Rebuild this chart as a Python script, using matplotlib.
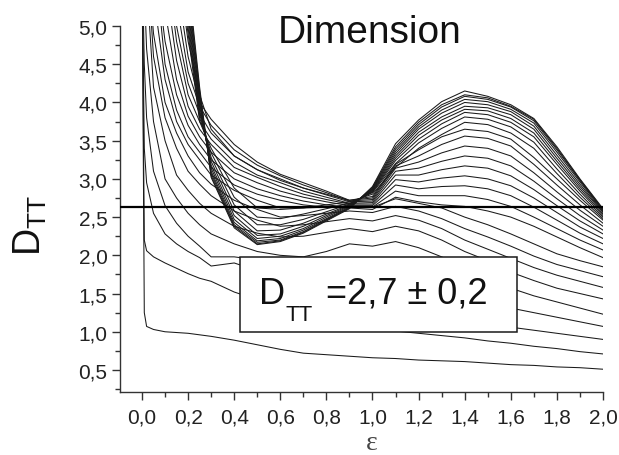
import numpy as np
import matplotlib
matplotlib.use('Agg')
import matplotlib.pyplot as plt
from matplotlib.ticker import MultipleLocator, FuncFormatter
from matplotlib.patches import Rectangle

plt.rcParams['font.family'] = ['Liberation Sans', 'DejaVu Sans']
plt.rcParams['mathtext.fontset'] = 'custom'
plt.rcParams['mathtext.rm'] = 'Liberation Sans'

# epsilon grid shared by all curves
eps = [0.0, 0.01, 0.02, 0.05, 0.1, 0.15, 0.2, 0.25, 0.3, 0.4, 0.5, 0.6, 0.7,
       0.8, 0.9, 1.0, 1.1, 1.2, 1.3, 1.4, 1.5, 1.6, 1.7, 1.8, 1.9, 2.0]

# D_TT for each embedding (lowest curve first)
c01 = [6.0, 1.25, 1.07, 1.03, 1.00, 0.99, 0.98, 0.96, 0.94, 0.89, 0.83, 0.77, 0.72,
       0.70, 0.68, 0.66, 0.65, 0.63, 0.62, 0.61, 0.59, 0.57, 0.56, 0.54, 0.53, 0.51]
c02 = [6.0, 2.20, 2.06, 1.98, 1.90, 1.83, 1.76, 1.70, 1.66, 1.52, 1.42, 1.33, 1.24,
       1.16, 1.10, 1.05, 1.01, 0.98, 0.95, 0.92, 0.88, 0.85, 0.81, 0.78, 0.74, 0.71]
c03 = [6.0, 3.40, 2.95, 2.55, 2.28, 2.15, 2.05, 1.97, 1.86, 1.90, 1.80, 1.70, 1.60,
       1.52, 1.45, 1.38, 1.32, 1.26, 1.20, 1.15, 1.10, 1.06, 1.02, 0.98, 0.94, 0.90]
c04 = [6.0, 4.50, 3.80, 3.10, 2.65, 2.42, 2.25, 2.12, 1.98, 1.98, 1.94, 1.88, 1.82,
       1.76, 1.70, 1.65, 1.60, 1.55, 1.50, 1.44, 1.38, 1.31, 1.25, 1.19, 1.13, 1.07]
c05 = [6.0, 5.50, 4.70, 3.75, 3.00, 2.75, 2.55, 2.40, 2.28, 2.15, 2.05, 2.00, 1.98,
       2.05, 2.15, 2.12, 2.18, 2.10, 1.98, 1.85, 1.72, 1.57, 1.47, 1.39, 1.31, 1.23]
c06 = [6.0, 6.0, 5.60, 4.20, 3.50, 3.05, 2.85, 2.68, 2.55, 2.38, 2.29, 2.24, 2.25,
       2.30, 2.35, 2.31, 2.38, 2.32, 2.20, 2.05, 1.93, 1.78, 1.67, 1.57, 1.50, 1.43]
c07 = [6.0, 6.0, 6.0, 4.60, 3.80, 3.40, 3.10, 2.93, 2.78, 2.58, 2.46, 2.38, 2.40,
       2.44, 2.48, 2.45, 2.52, 2.46, 2.35, 2.20, 2.08, 1.96, 1.84, 1.74, 1.66, 1.58]
c08 = [6.0, 6.0, 6.0, 4.90, 4.00, 3.60, 3.30, 3.08, 2.93, 2.72, 2.60, 2.50, 2.52,
       2.55, 2.58, 2.56, 2.64, 2.58, 2.48, 2.35, 2.24, 2.12, 1.99, 1.88, 1.80, 1.72]
c09 = [6.0, 6.0, 6.0, 5.40, 4.30, 3.75, 3.45, 3.25, 3.05, 2.85, 2.72, 2.62, 2.62,
       2.63, 2.64, 2.63, 2.74, 2.68, 2.62, 2.50, 2.40, 2.28, 2.15, 2.02, 1.93, 1.85]
c10 = [6.0, 6.0, 6.0, 6.0, 4.50, 3.90, 3.55, 3.35, 3.15, 2.92, 2.80, 2.72, 2.66,
       2.63, 2.62, 2.60, 2.76, 2.70, 2.66, 2.64, 2.58, 2.50, 2.38, 2.24, 2.10, 1.97]
c11 = [6.0, 6.0, 6.0, 6.0, 4.80, 4.10, 3.70, 3.45, 3.25, 3.00, 2.87, 2.78, 2.71,
       2.66, 2.63, 2.63, 2.84, 2.78, 2.78, 2.78, 2.73, 2.64, 2.50, 2.35, 2.20, 2.07]
c12 = [6.0, 6.0, 6.0, 6.0, 5.20, 4.30, 3.82, 3.55, 3.35, 3.08, 2.95, 2.84, 2.76,
       2.70, 2.65, 2.65, 2.92, 2.87, 2.90, 2.91, 2.87, 2.78, 2.63, 2.46, 2.29, 2.15]
c13 = [6.0, 6.0, 6.0, 6.0, 5.60, 4.55, 3.95, 3.65, 3.45, 3.15, 3.02, 2.90, 2.80,
       2.73, 2.67, 2.67, 2.99, 2.96, 3.01, 3.04, 3.00, 2.91, 2.75, 2.56, 2.37, 2.22]
c14 = [6.0, 6.0, 6.0, 6.0, 6.0, 4.80, 4.10, 3.75, 3.52, 3.22, 3.05, 2.95, 2.84,
       2.76, 2.68, 2.69, 3.05, 3.05, 3.12, 3.17, 3.14, 3.04, 2.86, 2.65, 2.45, 2.28]
c15 = [6.0, 6.0, 6.0, 6.0, 6.0, 5.00, 4.25, 3.85, 3.60, 3.30, 3.12, 3.00, 2.88,
       2.79, 2.70, 2.71, 3.10, 3.14, 3.23, 3.30, 3.27, 3.17, 2.97, 2.74, 2.52, 2.33]
c16 = [6.0, 6.0, 6.0, 6.0, 6.0, 5.30, 4.40, 3.95, 3.70, 3.38, 3.18, 3.04, 2.92,
       2.82, 2.71, 2.73, 3.14, 3.22, 3.34, 3.43, 3.40, 3.30, 3.08, 2.83, 2.59, 2.38]
c17 = [6.0, 6.0, 6.0, 6.0, 6.0, 5.60, 4.60, 4.00, 3.78, 3.45, 3.22, 3.06, 2.95,
       2.84, 2.72, 2.75, 3.17, 3.30, 3.45, 3.56, 3.53, 3.43, 3.19, 2.92, 2.66, 2.42]
c18 = [6.0, 6.0, 6.0, 6.0, 6.0, 5.90, 4.80, 4.10, 3.65, 3.30, 3.12, 2.98, 2.88,
       2.80, 2.72, 2.77, 3.19, 3.38, 3.55, 3.65, 3.62, 3.52, 3.28, 3.00, 2.72, 2.46]
c19 = [6.0, 6.0, 6.0, 6.0, 6.0, 6.0, 4.90, 3.75, 3.40, 2.88, 2.62, 2.60, 2.62,
       2.66, 2.70, 2.80, 3.15, 3.40, 3.58, 3.74, 3.71, 3.60, 3.40, 3.07, 2.76, 2.48]
c20 = [6.0, 6.0, 6.0, 6.0, 6.0, 6.0, 4.98, 3.80, 3.34, 2.76, 2.50, 2.48, 2.54,
       2.61, 2.68, 2.82, 3.20, 3.47, 3.66, 3.81, 3.78, 3.68, 3.48, 3.13, 2.80, 2.50]
c21 = [6.0, 6.0, 6.0, 6.0, 6.0, 6.0, 5.06, 3.85, 3.28, 2.66, 2.40, 2.40, 2.47,
       2.57, 2.67, 2.83, 3.24, 3.52, 3.72, 3.87, 3.84, 3.74, 3.55, 3.19, 2.84, 2.52]
c22 = [6.0, 6.0, 6.0, 6.0, 6.0, 6.0, 5.14, 3.90, 3.23, 2.58, 2.32, 2.33, 2.42,
       2.54, 2.66, 2.84, 3.27, 3.57, 3.77, 3.91, 3.89, 3.79, 3.60, 3.23, 2.87, 2.54]
c23 = [6.0, 6.0, 6.0, 6.0, 6.0, 6.0, 5.22, 3.95, 3.18, 2.52, 2.26, 2.28, 2.38,
       2.52, 2.65, 2.85, 3.30, 3.61, 3.81, 3.95, 3.93, 3.84, 3.65, 3.27, 2.90, 2.56]
c24 = [6.0, 6.0, 6.0, 6.0, 6.0, 6.0, 5.30, 4.00, 3.14, 2.47, 2.22, 2.25, 2.35,
       2.50, 2.64, 2.86, 3.33, 3.65, 3.86, 4.00, 3.97, 3.88, 3.69, 3.31, 2.93, 2.57]
c25 = [6.0, 6.0, 6.0, 6.0, 6.0, 6.0, 5.38, 4.05, 3.10, 2.43, 2.19, 2.22, 2.33,
       2.48, 2.63, 2.87, 3.36, 3.68, 3.90, 4.04, 4.01, 3.91, 3.73, 3.35, 2.96, 2.58]
c26 = [6.0, 6.0, 6.0, 6.0, 6.0, 6.0, 5.46, 4.10, 3.07, 2.40, 2.17, 2.20, 2.31,
       2.47, 2.62, 2.88, 3.39, 3.71, 3.94, 4.08, 4.04, 3.94, 3.76, 3.38, 2.98, 2.59]
c27 = [6.0, 6.0, 6.0, 6.0, 6.0, 6.0, 5.54, 4.15, 3.04, 2.38, 2.15, 2.19, 2.30,
       2.46, 2.62, 2.89, 3.42, 3.74, 3.97, 4.10, 4.06, 3.95, 3.78, 3.40, 2.99, 2.60]
c28 = [6.0, 6.0, 6.0, 6.0, 6.0, 6.0, 5.62, 4.20, 3.02, 2.36, 2.14, 2.18, 2.29,
       2.45, 2.61, 2.90, 3.46, 3.77, 4.01, 4.15, 4.08, 3.97, 3.79, 3.42, 3.00, 2.61]

curves = [c01, c02, c03, c04, c05, c06, c07, c08, c09, c10, c11, c12, c13, c14,
          c15, c16, c17, c18, c19, c20, c21, c22, c23, c24, c25, c26, c27, c28]

d_level = 2.63          # horizontal estimate line
box_x = (0.425, 1.627)  # result box extent in data units
box_y = (0.997, 1.978)

W, H = 619, 456
fig = plt.figure(figsize=(W/100., H/100.), dpi=100)
ax = fig.add_axes([120./W, 1-393./H, 483./W, 366./H])

for c in curves:
    ax.plot(eps, c, color='#1a1a1a', lw=0.75, solid_joinstyle='miter')

ax.axhline(d_level, color='k', lw=1.6, zorder=5)

ax.add_patch(Rectangle((box_x[0], box_y[0]), box_x[1]-box_x[0], box_y[1]-box_y[0],
                       facecolor='white', edgecolor='#1a1a1a', lw=1.1, zorder=6))

ax.set_xlim(-0.0954, 2.0)
ax.set_ylim(0.212, 5.0)
for s in ['top', 'right']:
    ax.spines[s].set_visible(False)
for s in ['left', 'bottom']:
    ax.spines[s].set_color('#333333')
    ax.spines[s].set_linewidth(1.0)

ax.xaxis.set_major_locator(MultipleLocator(0.2))
ax.xaxis.set_minor_locator(MultipleLocator(0.1))
ax.yaxis.set_major_locator(MultipleLocator(0.5))
ax.yaxis.set_minor_locator(MultipleLocator(0.25))
comma = FuncFormatter(lambda v, p: ('%.1f' % v).replace('.', ','))
ax.xaxis.set_major_formatter(comma)
ax.yaxis.set_major_formatter(comma)
ax.tick_params(which='major', direction='out', length=6, width=1.0,
               color='#333333', labelsize=15, labelcolor='#222222')
ax.tick_params(which='minor', direction='out', length=3.6, width=1.0,
               color='#333333')
ax.tick_params(axis='x', pad=5)
ax.tick_params(axis='y', pad=3)

# texts placed in pixel positions of the original
fig.text(278./W, 1-43./H, 'Dimension', fontsize=28, ha='left', va='baseline',
         color='#111111')
fig.text(12./W, 1-226./H, r'$\mathregular{D_{TT}}$', fontsize=27, rotation=90,
         ha='left', va='center', color='#111111')
fig.text(372./W, 1-444./H, '\u03b5', fontsize=20, ha='center', va='center',
         color='#444444', family='Liberation Serif')

fig.text(259./W, 1-304./H, 'D', fontsize=26, ha='left', va='baseline',
         color='#111111', zorder=10)
fig.text(286./W, 1-321./H, 'TT', fontsize=16, ha='left', va='baseline',
         color='#111111', zorder=10)
fig.text(326./W, 1-304./H, '=2,7 \u00b1 0,2', fontsize=26, ha='left',
         va='baseline', color='#111111', zorder=10)

fig.savefig('out.png', dpi=100)
